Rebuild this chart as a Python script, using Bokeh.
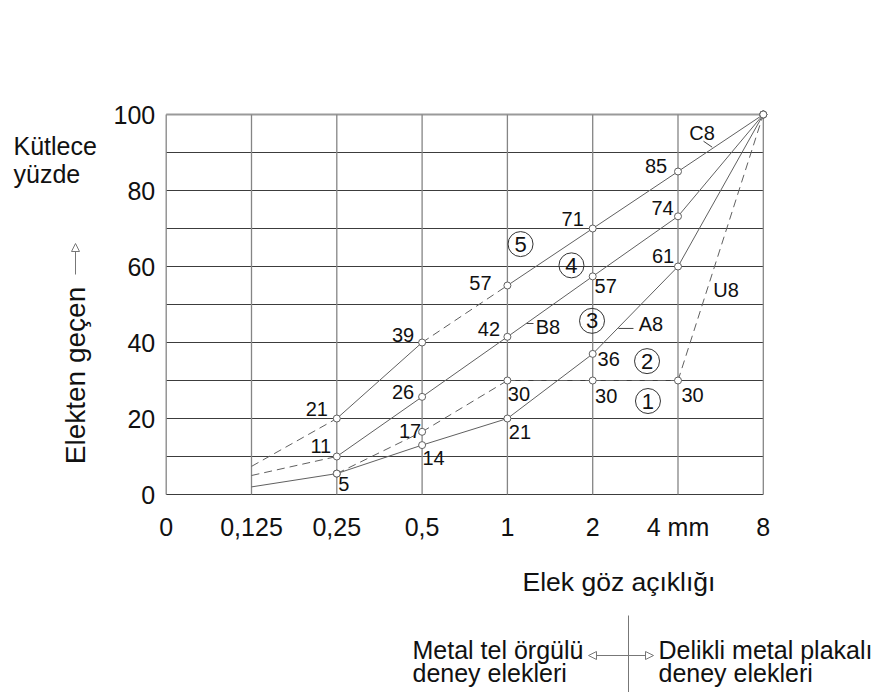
from bokeh.plotting import figure
from bokeh.models import Range1d, FixedTicker, Label, Arrow, NormalHead, ColumnDataSource
from bokeh.core.properties import value
from bokeh.embed import file_html
from bokeh.resources import INLINE

# ---------------- data ----------------
sieve_labels = ["0", "0,125", "0,25", "0,5", "1", "2", "4 mm", "8"]
sieve_pos = [0, 1, 2, 3, 4, 5, 6, 7]
y_ticks = [0, 20, 40, 60, 80, 100]
grid_y = [0, 10, 20, 30, 40, 50, 60, 70, 80, 90, 100]

curve_x = [1, 2, 3, 4, 5, 6, 7]
a8_y = [2, 5.5, 13, 20, 37, 60, 100]
b8_y = [5, 10, 25.7, 41.5, 57.4, 73.2, 100]
c8_y = [7.4, 20, 40, 55, 70, 85, 100]
u8_x = [2, 3, 4, 5, 6, 7]
u8_y = [5.5, 16.5, 30, 30, 30, 100]

a8_labels = ["", "5", "14", "21", "36", "61", ""]
b8_labels = ["", "11", "26", "42", "57", "74", ""]
c8_labels = ["", "21", "39", "57", "71", "85", ""]
u8_labels = ["", "17", "30", "30", "30", ""]

curve_names = ["A8", "B8", "C8", "U8"]
zone_numbers = ["1", "2", "3", "4", "5"]

# ---------------- styles / layout ----------------
FONT = "Liberation Sans"
CURVE_COLOR = "#606060"
W, H = 889, 692
X0_PX, X_SCALE = 165.7, 85.3     # pixel of x=0, pixels per sieve step
Y0_PX, Y_SCALE = 494.0, 3.8      # pixel of y=0, pixels per percent

a8_dash = [False, False, False, False, False, False]
b8_dash = [True, False, False, False, False, False]
c8_dash = [True, False, True, False, False, False]
u8_dash = [True, True, True, True, True]

a8_off = [None, (7, 10.5), (11.5, 13), (12.5, 13), (16, 5), (-15, -11), None]
b8_off = [None, (-16, -10.5), (-19, -5), (-18.5, -7.5), (13, 9.5), (-15.5, -8), None]
c8_off = [None, (-20, -10), (-19, -8), (-27, -3), (-20, -9.5), (-22, -6), None]
u8_off = [None, (-12, -1), (11.5, 13.5), (13.5, 15), (14.5, 14), None]

name_pos = {"A8": (5.683, 44.9), "B8": (4.476, 44.1), "C8": (6.281, 95.1), "U8": (6.563, 53.9)}
name_leader = {"A8": ((5.302, 43.7), (5.478, 43.7)),
               "B8": ((4.224, 45.0), (4.306, 45.0)),
               "C8": ((6.299, 92.97), (6.401, 91.4))}
zone_pos = [(5.648, 24.6), (5.637, 35.1), (4.992, 45.7), (4.751, 60.3), (4.154, 65.9)]


def dx(px):
    return (px - X0_PX) / X_SCALE


def dy(py):
    return (Y0_PX - py) / Y_SCALE


p = figure(width=W, height=H,
           x_range=Range1d(dx(0), dx(W)), y_range=Range1d(dy(H), dy(0)),
           output_backend="svg", toolbar_location=None,
           min_border=0, min_border_left=0, min_border_right=0,
           min_border_top=0, min_border_bottom=0)
p.xgrid.visible = False
p.ygrid.visible = False
p.outline_line_color = None
p.background_fill_color = "white"
p.border_fill_color = "white"

for ax in (p.xaxis[0], p.yaxis[0]):
    ax.axis_line_color = None
    ax.major_tick_line_color = None
    ax.minor_tick_line_color = None
    ax.major_tick_out = 0
    ax.major_tick_in = 0
    ax.major_label_text_font = FONT
    ax.major_label_text_font_size = "25px"
    ax.major_label_text_color = "#111111"

p.xaxis.ticker = FixedTicker(ticks=sieve_pos)
p.xaxis.major_label_overrides = {pos: lab for pos, lab in zip(sieve_pos, sieve_labels)}
p.xaxis.major_label_standoff = 18
p.xaxis.fixed_location = 0
p.yaxis.ticker = FixedTicker(ticks=y_ticks)
p.yaxis.major_label_standoff = 11
p.yaxis.fixed_location = 0

# ---------------- grid ----------------
xmin, xmax = sieve_pos[0], sieve_pos[-1]
ymin, ymax = grid_y[0], grid_y[-1]
h_top = [gy for gy in grid_y if gy == ymax]
h_rest = [gy for gy in grid_y if gy != ymax]
p.segment(x0=[xmin] * len(h_rest), x1=[xmax] * len(h_rest), y0=h_rest, y1=h_rest,
          line_color="#3c3c3c", line_width=1)
p.segment(x0=[xmin] * len(h_top), x1=[xmax] * len(h_top), y0=h_top, y1=h_top,
          line_color="#9a9a9a", line_width=2)
p.segment(x0=sieve_pos, x1=sieve_pos, y0=[ymin] * len(sieve_pos), y1=[ymax] * len(sieve_pos),
          line_color="#858585", line_width=1.3)


# ---------------- curves ----------------
def draw_curve(xs, ys, dashes, labels, offs):
    for i, dashed in enumerate(dashes):
        p.line(x=[xs[i], xs[i + 1]], y=[ys[i], ys[i + 1]], line_color=CURVE_COLOR,
               line_width=1, line_dash="8 5" if dashed else "solid")
    mx = [x for x in xs if x >= 2]
    my = [y for x, y in zip(xs, ys) if x >= 2]
    p.scatter(x=mx, y=my, size=7, marker="circle", fill_color="white",
              line_color=CURVE_COLOR, line_width=1)
    tx, ty, tt, ox, oy = [], [], [], [], []
    for x, y, lab, off in zip(xs, ys, labels, offs):
        if lab and off:
            tx.append(x); ty.append(y); tt.append(lab); ox.append(off[0]); oy.append(off[1])
    src = ColumnDataSource(dict(x=tx, y=ty, t=tt, dx=ox, dy=oy))
    p.text(x="x", y="y", text="t", x_offset="dx", y_offset="dy", source=src,
           text_font=value(FONT), text_font_size="20px", text_color="#111111",
           text_align="center", text_baseline="middle")


draw_curve(curve_x, c8_y, c8_dash, c8_labels, c8_off)
draw_curve(curve_x, b8_y, b8_dash, b8_labels, b8_off)
draw_curve(curve_x, a8_y, a8_dash, a8_labels, a8_off)
draw_curve(u8_x, u8_y, u8_dash, u8_labels, u8_off)

# curve names + leaders
for name in curve_names:
    nx, ny = name_pos[name]
    p.text(x=[nx], y=[ny], text=[name], text_font=value(FONT), text_font_size="20px",
           text_color="#111111", text_align="center", text_baseline="middle")
    if name in name_leader:
        (lx0, ly0), (lx1, ly1) = name_leader[name]
        p.line(x=[lx0, lx1], y=[ly0, ly1], line_color="#444444", line_width=1)

# circled zone numbers
zx = [zp[0] for zp in zone_pos]
zy = [zp[1] for zp in zone_pos]
p.scatter(x=zx, y=zy, size=25, marker="circle", fill_color=None, line_color="#333333", line_width=1)
p.text(x=zx, y=zy, text=zone_numbers, text_font=value(FONT), text_font_size="22px",
       text_color="#111111", text_align="center", text_baseline="middle")


# ---------------- outside texts ----------------
def lab(px, py, text, size="25px", align="left", baseline="alphabetic", angle=0):
    p.add_layout(Label(x=dx(px), y=dy(py), text=text, text_font=FONT, text_font_size=size,
                       text_color="#111111", text_align=align, text_baseline=baseline,
                       angle=angle))


lab(13, 145, "Kütlece")
lab(13, 173, "yüzde")
lab(75, 375, "Elekten geçen", size="28px", align="center", baseline="middle", angle=1.5708)
head_kw = dict(size=8, fill_color="white", line_color="#777777", line_width=1)
p.add_layout(Arrow(x_start=dx(75), y_start=dy(274), x_end=dx(75), y_end=dy(243),
                   line_color="#777777", line_width=1, end=NormalHead(**head_kw)))

lab(522, 581.5, "Elek göz açıklığı", size="26.5px")
lab(412, 649.5, "Metal tel örgülü")
lab(412, 672, "deney elekleri")
lab(658, 649.5, "Delikli metal plakalı")
lab(658, 672, "deney elekleri")

p.add_layout(Arrow(x_start=dx(628), y_start=dy(615), x_end=dx(628), y_end=dy(H),
                   line_color="#777777", line_width=1, end=None))
p.add_layout(Arrow(x_start=dx(588), y_start=dy(655), x_end=dx(653), y_end=dy(655),
                   line_color="#777777", line_width=1,
                   start=NormalHead(**head_kw), end=NormalHead(**head_kw)))

open("out.html", "w").write(file_html(p, INLINE))
